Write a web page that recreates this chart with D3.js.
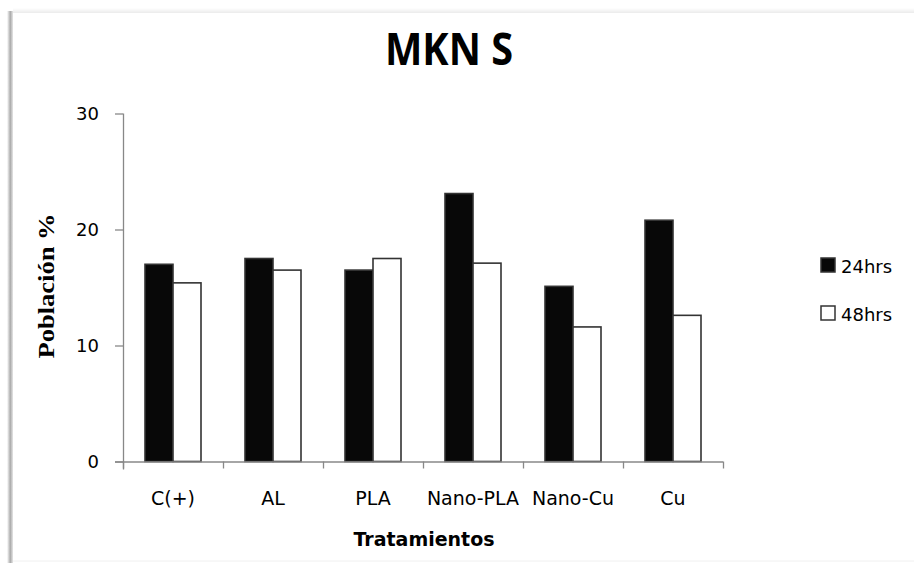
<!DOCTYPE html>
<html>
<head>
<meta charset="utf-8">
<script src="https://cdn.jsdelivr.net/npm/d3@7"></script>
<style>
  body { margin: 0; background: #fff; }
  svg { display: block; }
</style>
</head>
<body>
<svg width="914" height="563"></svg>
<script>
// data
const categories = ["C(+)", "AL", "PLA", "Nano-PLA", "Nano-Cu", "Cu"];
const series = ["24hrs", "48hrs"];
const values24 = [17.0, 17.5, 16.5, 23.1, 15.1, 20.8];
const values48 = [15.4, 16.5, 17.5, 17.1, 11.6, 12.6];
const yTicks = [0, 10, 20, 30];

let svg = d3.select("svg");
let width = +svg.attr("width");
let height = +svg.attr("height");

// frame with soft shadow on the left / top
let defs = svg.append("defs");
let lg = defs.append("linearGradient").attr("id", "lshadow").attr("x1", "0").attr("x2", "1");
lg.append("stop").attr("offset", "0").attr("stop-color", "#fff");
lg.append("stop").attr("offset", "0.55").attr("stop-color", "#aaa");
lg.append("stop").attr("offset", "1").attr("stop-color", "#e6e6e6");
let tg = defs.append("linearGradient").attr("id", "tshadow").attr("x1", "0").attr("x2", "0").attr("y1", "0").attr("y2", "1");
tg.append("stop").attr("offset", "0").attr("stop-color", "#fff");
tg.append("stop").attr("offset", "1").attr("stop-color", "#ebebeb");

svg.append("rect").attr("x", 7).attr("y", 11).attr("width", 6).attr("height", height - 11)
    .style("fill", "url(#lshadow)");
svg.append("rect").attr("x", 13).attr("y", 8).attr("width", width - 13).attr("height", 5)
    .style("fill", "url(#tshadow)");
svg.append("line").attr("x1", 13).attr("x2", width).attr("y1", 561).attr("y2", 561)
    .style("stroke", "#f0f0f0");

let margin = {left: 123, right: 191, top: 113.5, bottom: 101.5};
let x = d3.scaleBand()
    .domain(categories)
    .range([margin.left, width - margin.right])
    .paddingInner(0.44)
    .paddingOuter(0.22);
let xs = d3.scaleBand()
    .domain(series)
    .range([0, x.bandwidth()]);
let y = d3.scaleLinear()
    .domain([0, 30])
    .range([height - margin.bottom, margin.top]);

let color = d3.scaleOrdinal().domain(series).range(["#080808", "#ffffff"]);

// title
svg.append("text")
    .attr("x", 449).attr("y", 65)
    .attr("text-anchor", "middle")
    .attr("textLength", 128)
    .attr("lengthAdjust", "spacingAndGlyphs")
    .style("font-family", "'Open Sans', sans-serif")
    .style("font-weight", "bold")
    .style("font-size", "45px")
    .style("fill", "#000")
    .text("MKN S");

// bars
let rows = categories.map((c, i) => ({cat: c, vals: [
    {s: series[0], v: values24[i]},
    {s: series[1], v: values48[i]}
]}));

let groups = svg.append("g").selectAll("g")
    .data(rows)
    .enter().append("g")
    .attr("transform", d => "translate(" + x(d.cat) + ",0)");

groups.selectAll("rect")
    .data(d => d.vals)
    .enter().append("rect")
    .attr("x", d => xs(d.s))
    .attr("y", d => y(d.v))
    .attr("width", xs.bandwidth())
    .attr("height", d => y(0) - y(d.v))
    .style("fill", d => color(d.s))
    .style("stroke", "#333")
    .style("stroke-width", 1.6);

// axes
let xOuter = d3.scaleLinear().domain([0, categories.length]).range(x.range());
let yAxis = svg.append("g")
    .attr("transform", "translate(" + margin.left + ",0)")
    .call(d3.axisLeft(y).tickValues(yTicks).tickSize(8).tickPadding(16));
let xAxis = svg.append("g")
    .attr("transform", "translate(0," + y(0) + ")")
    .call(d3.axisBottom(xOuter).ticks(6).tickSize(7).tickFormat(""));
xAxis.selectAll("path").attr("d", "M" + (margin.left - 8) + ",0.5H" + (width - margin.right));

[xAxis, yAxis].forEach(a => {
    a.selectAll("path, line").style("stroke", "#888").style("stroke-width", 1.3);
});
yAxis.select("path").attr("d", "M0.5," + margin.top + "V" + (y(0) + 8));
yAxis.selectAll("text")
    .style("font-family", "'DejaVu Sans', sans-serif")
    .style("font-size", "18px")
    .style("fill", "#000");

// category labels
svg.append("g").selectAll("text")
    .data(categories)
    .enter().append("text")
    .attr("x", d => x(d) + x.bandwidth() / 2)
    .attr("y", 505)
    .attr("text-anchor", "middle")
    .style("font-family", "'DejaVu Sans', sans-serif")
    .style("font-size", "19px")
    .style("fill", "#000")
    .text(d => d);

svg.append("text")
    .attr("x", 424).attr("y", 546)
    .attr("text-anchor", "middle")
    .style("font-family", "'DejaVu Sans', sans-serif")
    .style("font-weight", "bold")
    .style("font-size", "19px")
    .style("fill", "#000")
    .text("Tratamientos");

svg.append("text")
    .attr("transform", "translate(54,286) rotate(-90)")
    .attr("text-anchor", "middle")
    .attr("textLength", 145)
    .attr("lengthAdjust", "spacingAndGlyphs")
    .style("font-family", "'Liberation Serif', serif")
    .style("font-weight", "bold")
    .style("font-size", "23px")
    .style("fill", "#000")
    .text("Población %");

// legend
let legend = svg.append("g").selectAll("g")
    .data(series)
    .enter().append("g")
    .attr("transform", (d, i) => "translate(820," + (257 + i * 48) + ")");
legend.append("rect")
    .attr("x", 1).attr("y", 1)
    .attr("width", 14).attr("height", 14)
    .style("fill", d => color(d))
    .style("stroke", "#333")
    .style("stroke-width", 1.5);
legend.append("text")
    .attr("x", 21).attr("y", 16)
    .style("font-family", "'DejaVu Sans', sans-serif")
    .style("font-size", "18px")
    .style("fill", "#000")
    .text(d => d);
</script>
</body>
</html>
